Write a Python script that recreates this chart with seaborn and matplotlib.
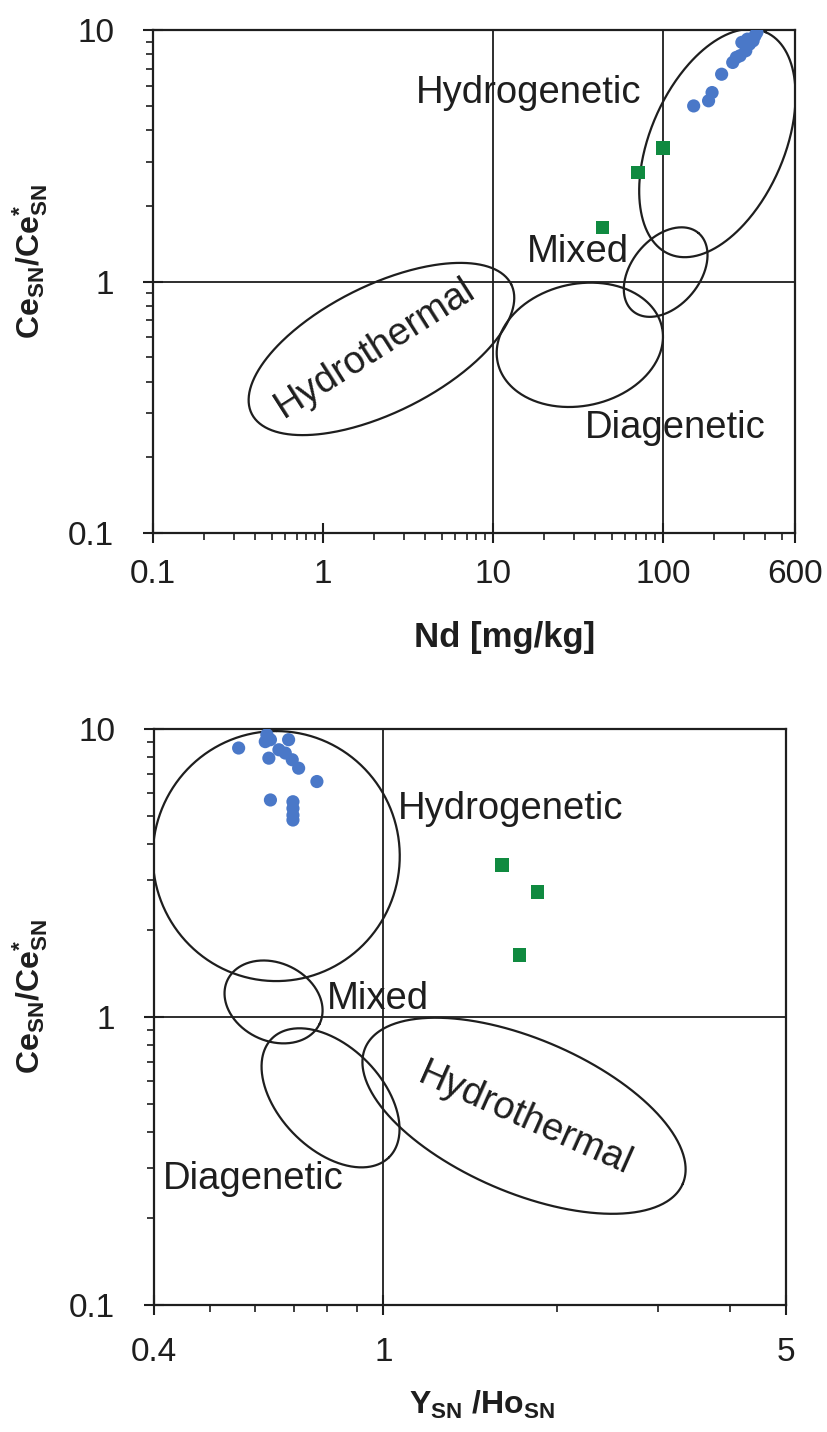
import numpy as np
import pandas as pd
import seaborn as sns
import matplotlib.pyplot as plt
from matplotlib.ticker import LogLocator, NullFormatter

sns.set_style('ticks')
plt.rcParams['font.family'] = ['Liberation Sans', 'DejaVu Sans']
plt.rcParams['mathtext.fontset'] = 'custom'
plt.rcParams['mathtext.rm'] = 'Liberation Sans'
plt.rcParams['mathtext.bf'] = 'Liberation Sans:bold'
plt.rcParams['mathtext.it'] = 'Liberation Sans:italic'

# --- data ---
# top panel: Nd [mg/kg] vs Ce_SN/Ce_SN*
blue_nd = [152, 186, 195, 222, 258, 271, 285, 292, 308, 315, 324, 340, 349, 358]
blue_ce_top = [4.99, 5.23, 5.64, 6.67, 7.43, 7.78, 7.90, 8.93, 8.27, 9.20, 8.79, 9.06, 9.49, 9.79]
green_nd = [100, 71.3, 44.3]
green_ce_top = [3.40, 2.71, 1.64]

# bottom panel: Y_SN/Ho_SN vs Ce_SN/Ce_SN*
blue_yho = [0.561, 0.628, 0.637, 0.624, 0.685, 0.659, 0.633, 0.676, 0.695, 0.713,
            0.767, 0.637, 0.697, 0.697, 0.697, 0.697]
blue_ce_bot = [8.59, 9.55, 9.18, 9.04, 9.18, 8.47, 7.92, 8.25, 7.82, 7.31,
               6.57, 5.67, 5.59, 5.30, 5.02, 4.83]
green_yho = [1.606, 1.853, 1.725]
green_ce_bot = [3.37, 2.72, 1.64]

top_xticks = [0.1, 1, 10, 100, 600]
bot_xticks = [0.4, 1, 5]
yticks = [0.1, 1, 10]

# fields: name, centre (data), semi axes in px, angle in deg
top_fields = [('Hydrogenetic', 209.6, 3.55, 121, 67, 66.4),
              ('Mixed', 104, 1.09, 51, 34, 50),
              ('Diagenetic', 32.5, 0.56, 84, 61, 12),
              ('Hydrothermal', 2.21, 0.539, 145, 63.5, 26.5)]
bot_fields = [('Hydrogenetic', 0.652, 3.62, 125, 123.5, 90),
              ('Mixed', 0.645, 1.128, 51, 39, -25.3),
              ('Diagenetic', 0.81, 0.524, 83.4, 51.4, -45.5),
              ('Hydrothermal', 1.755, 0.454, 172.7, 76.8, -23.2)]

BLUE = '#4a78c8'
GREEN = '#108a40'
INK = '#1e1e1e'
W, H = 828, 1432

fig = plt.figure(figsize=(W / 100, H / 100), dpi=100)
ax1 = fig.add_axes([153 / W, 1 - 533 / H, (795 - 153) / W, 503 / H])
ax2 = fig.add_axes([154 / W, 1 - 1305 / H, (786 - 154) / W, (1305 - 729) / H])


def draw_field(ax, cx, cy, a, b, ang):
    # ellipse drawn in screen pixels, mapped back to the log axes
    pos = ax.get_position()
    x0, x1 = ax.get_xlim()
    y0, y1 = ax.get_ylim()
    ppd_x = pos.width * W / np.log10(x1 / x0)
    ppd_y = pos.height * H / np.log10(y1 / y0)
    t = np.linspace(0, 2 * np.pi, 400)
    th = np.radians(ang)
    dx = a * np.cos(t) * np.cos(th) - b * np.sin(t) * np.sin(th)
    dy = a * np.cos(t) * np.sin(th) + b * np.sin(t) * np.cos(th)
    ax.plot(cx * 10 ** (dx / ppd_x), cy * 10 ** (dy / ppd_y), color=INK, lw=1.6)


def style_axes(ax, xlim, xticks, xpad):
    ax.set_xscale('log')
    ax.set_yscale('log')
    ax.set_xlim(*xlim)
    ax.set_ylim(0.1, 10)
    ax.set_xticks(xticks)
    ax.set_xticklabels([f'{v:g}' for v in xticks])
    ax.set_yticks(yticks)
    ax.set_yticklabels([f'{v:g}' for v in yticks])
    for axis in (ax.xaxis, ax.yaxis):
        axis.set_minor_locator(LogLocator(base=10, subs=np.arange(2, 10)))
        axis.set_minor_formatter(NullFormatter())
    ax.tick_params(which='major', direction='inout', length=14, width=1.5,
                   colors=INK, labelsize=24)
    ax.tick_params(axis='y', which='major', pad=21)
    ax.tick_params(axis='x', which='major', pad=xpad)
    ax.tick_params(which='minor', direction='out', length=5, width=1.2, colors=INK)
    for s in ax.spines.values():
        s.set_linewidth(1.6)
        s.set_color(INK)
        s.set_visible(True)
    ax.axhline(1, color=INK, lw=1.3, zorder=1)


lab = dict(fontsize=27.5, color=INK)
ylab = r'$\mathbf{Ce_{SN}/Ce_{SN}^{*}}$'

# ---------- top panel ----------
style_axes(ax1, (0.1, 600), top_xticks, 12)
ax1.axvline(10, color=INK, lw=1.3, zorder=1)
ax1.axvline(100, color=INK, lw=1.3, zorder=1)
for name, cx, cy, a, b, ang in top_fields:
    draw_field(ax1, cx, cy, a, b, ang)

df_top_b = pd.DataFrame({'nd': blue_nd, 'ce': blue_ce_top})
df_top_g = pd.DataFrame({'nd': green_nd, 'ce': green_ce_top})
sns.scatterplot(data=df_top_b, x='nd', y='ce', ax=ax1, color=BLUE, marker='o',
                s=90, edgecolor='none', zorder=3)
sns.scatterplot(data=df_top_g, x='nd', y='ce', ax=ax1, color=GREEN, marker='s',
                s=95, edgecolor='none', zorder=3)

ax1.text(3.52, 5.13, 'Hydrogenetic', ha='left', va='baseline', **lab)
ax1.text(15.9, 1.196, 'Mixed', ha='left', va='baseline', **lab)
ax1.text(34.8, 0.239, 'Diagenetic', ha='left', va='baseline', **lab)
ax1.text(2.02, 0.544, 'Hydrothermal', ha='center', va='center', rotation=32.5,
         rotation_mode='anchor', **lab)

ax1.set_xlabel('Nd [mg/kg]', fontsize=25, fontweight='bold', color=INK, va='center')
ax1.xaxis.set_label_coords(0.547, -0.207)
ax1.set_ylabel(ylab, fontsize=23, color=INK, va='center', ha='center')
ax1.yaxis.set_label_coords(-0.192, 0.539)

# ---------- bottom panel ----------
style_axes(ax2, (0.4, 5), bot_xticks, 16)
ax2.axvline(1, color=INK, lw=1.3, zorder=1)
for name, cx, cy, a, b, ang in bot_fields:
    draw_field(ax2, cx, cy, a, b, ang)

df_bot_b = pd.DataFrame({'yho': blue_yho, 'ce': blue_ce_bot})
df_bot_g = pd.DataFrame({'yho': green_yho, 'ce': green_ce_bot})
sns.scatterplot(data=df_bot_b, x='yho', y='ce', ax=ax2, color=BLUE, marker='o',
                s=90, edgecolor='none', zorder=3)
sns.scatterplot(data=df_bot_g, x='yho', y='ce', ax=ax2, color=GREEN, marker='s',
                s=95, edgecolor='none', zorder=3)

ax2.text(1.06, 4.88, 'Hydrogenetic', ha='left', va='baseline', **lab)
ax2.text(0.798, 1.07, 'Mixed', ha='left', va='baseline', **lab)
ax2.text(0.415, 0.252, 'Diagenetic', ha='left', va='baseline', **lab)
ax2.text(1.76, 0.443, 'Hydrothermal', ha='center', va='center', rotation=-24,
         rotation_mode='anchor', **lab)

ax2.set_xlabel(r'$\mathbf{Y_{SN}\ /Ho_{SN}}$', fontsize=23, color=INK, va='center')
ax2.xaxis.set_label_coords(0.519, -0.174)
ax2.set_ylabel(ylab, fontsize=23, color=INK, va='center', ha='center')
ax2.yaxis.set_label_coords(-0.196, 0.535)

fig.savefig('out.png', dpi=100)
